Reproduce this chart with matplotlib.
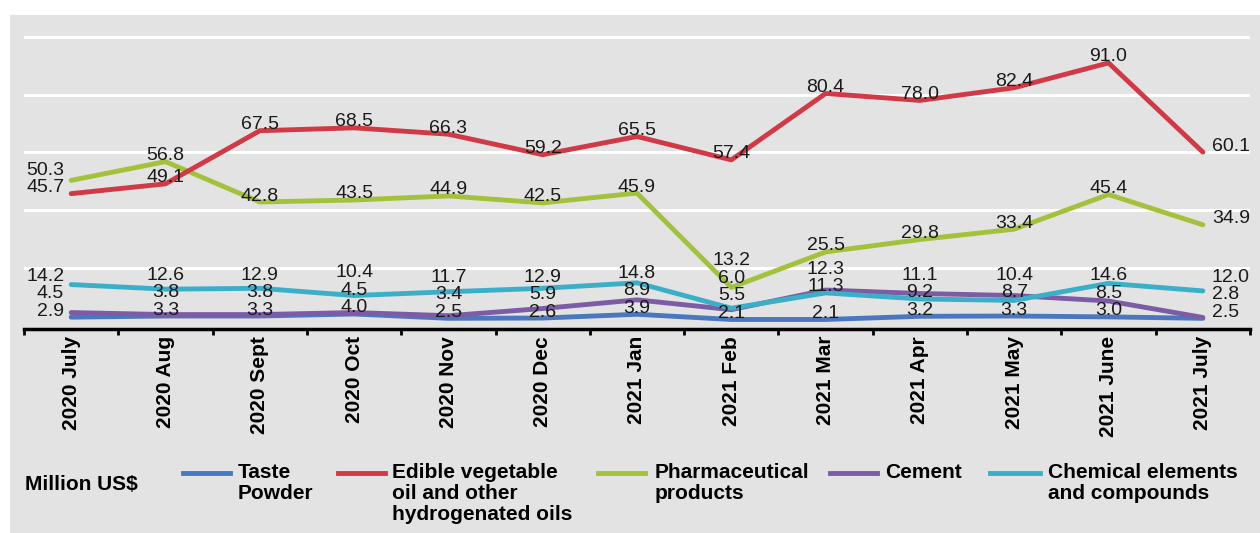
import matplotlib
matplotlib.use("Agg")
import matplotlib.pyplot as plt
from matplotlib.patches import Rectangle
from matplotlib.lines import Line2D
import numpy as np

plt.rcParams['font.family'] = ['Liberation Sans', 'DejaVu Sans']

months = ["2020 July", "2020 Aug", "2020 Sept", "2020 Oct", "2020 Nov", "2020 Dec",
          "2021 Jan", "2021 Feb", "2021 Mar", "2021 Apr", "2021 May", "2021 June", "2021 July"]

taste_powder = [2.9, 3.3, 3.3, 4.0, 2.5, 2.6, 3.9, 2.1, 2.1, 3.2, 3.3, 3.0, 2.5]
edible_oil = [45.7, 49.1, 67.5, 68.5, 66.3, 59.2, 65.5, 57.4, 80.4, 78.0, 82.4, 91.0, 60.1]
pharma = [50.3, 56.8, 42.8, 43.5, 44.9, 42.5, 45.9, 13.2, 25.5, 29.8, 33.4, 45.4, 34.9]
cement = [4.5, 3.8, 3.8, 4.5, 3.4, 5.9, 8.9, 5.5, 12.3, 11.1, 10.4, 8.5, 2.8]
chemical = [14.2, 12.6, 12.9, 10.4, 11.7, 12.9, 14.8, 6.0, 11.3, 9.2, 8.7, 14.6, 12.0]

series_names = ["Taste\nPowder", "Edible vegetable\noil and other\nhydrogenated oils",
                "Pharmaceutical\nproducts", "Cement", "Chemical elements\nand compounds"]
series_values = [taste_powder, edible_oil, pharma, cement, chemical]
series_colors = ["#4a78c0", "#d03a46", "#a3c23c", "#7d5ca6", "#3cafc8"]
unit_label = "Million US$"

W, H = 1260, 533
fig = plt.figure(figsize=(W / 100, H / 100), dpi=100)
fig.patch.set_facecolor("white")
fig.add_artist(Rectangle((10 / W, 0), 1 - 10 / W, 1 - 15 / H, transform=fig.transFigure,
                         facecolor="#e3e3e3", edgecolor="none", zorder=0))

ax = fig.add_axes([24 / W, (H - 329) / H, (1250 - 24) / W, (329 - 15) / H])
ax.set_facecolor("none")
x = np.arange(len(months))
ax.set_xlim(-0.5, len(months) - 0.5)
ax.set_ylim(-1.2, 107.6)

ax.set_yticks([20, 40, 60, 80, 100])
ax.tick_params(axis="y", left=False, labelleft=False)
ax.grid(axis="y", color="white", lw=2.2, zorder=0)
ax.set_axisbelow(True)
for s in ["top", "right", "left"]:
    ax.spines[s].set_visible(False)
ax.spines["bottom"].set_linewidth(2.5)
ax.spines["bottom"].set_color("black")

ax.set_xticks(x)
ax.set_xticklabels(months, rotation=90, fontsize=15, fontweight="bold")
ax.tick_params(axis="x", which="major", length=0, pad=5)
ax.set_xticks(np.arange(-0.5, len(months), 1.0), minor=True)
ax.tick_params(axis="x", which="minor", length=4, width=2, direction="out", color="black")

draw_order = [0, 3, 4, 2, 1]
for k in draw_order:
    ax.plot(x, series_values[k], color=series_colors[k], lw=3.5, solid_capstyle="round",
            solid_joinstyle="round", zorder=3 + draw_order.index(k))

# Data labels: stacked per month to avoid overlap
fig.canvas.draw()
to_disp = ax.transData.transform
gap = 17.5
for i in range(len(months)):
    vals = [(series_values[k][i], k) for k in range(len(series_values))]
    vals.sort()
    prev = -1e9
    for v, k in vals:
        px, py = to_disp((i, v))
        desired = py + 6
        placed = max(desired, prev + gap)
        prev = placed
        if i == 0:
            ha, dx = "right", -7
        elif i == len(months) - 1:
            ha, dx = "left", 9
        else:
            ha, dx = "center", 0
        dy = placed - py
        ax.annotate(f"{v:.1f}", xy=(i, v), xytext=(dx * 0.72, dy * 0.72),
                    textcoords="offset points", ha=ha, va="center",
                    fontsize=14, color="#1a1a1a", zorder=10)

# Legend drawn manually
fig.text(25 / W, 1 - 484 / H, unit_label, fontsize=15, fontweight="bold",
         ha="left", va="center")
legend_pos = [(183, 230, 238), (338, 385, 392), (598, 645, 655), (830, 877, 885), (990, 1040, 1048)]
for (x0, x1, tx), name, col in zip(legend_pos, series_names, series_colors):
    fig.add_artist(Line2D([x0 / W, x1 / W], [1 - 473 / H, 1 - 473 / H],
                          transform=fig.transFigure, color=col, lw=3.5))
    fig.text(tx / W, 1 - 463 / H, name, fontsize=15, fontweight="bold",
             ha="left", va="top", linespacing=1.12)

fig.savefig("out.png", dpi=100, facecolor=fig.get_facecolor())
